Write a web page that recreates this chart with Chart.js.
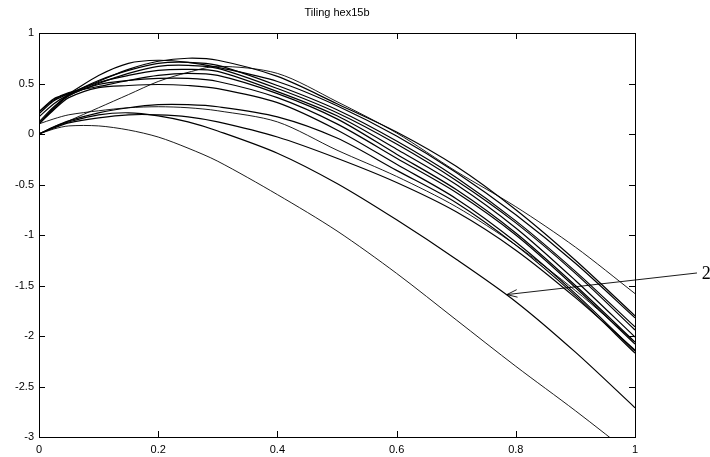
<!DOCTYPE html>
<html>
<head>
<meta charset="utf-8">
<script src="https://cdn.jsdelivr.net/npm/chart.js@4/dist/chart.umd.min.js"></script>
<style>
  html, body { margin: 0; padding: 0; background: #fff; }
  #wrap { width: 710px; height: 457px; position: relative; }
</style>
</head>
<body>
<div id="wrap"><canvas id="tilingChart"></canvas></div>
<script>
const chartTitle = 'Tiling hex15b';

// x positions shared by every curve
const xGrid = [0, 0.025, 0.05, 0.1, 0.15, 0.2, 0.25, 0.3, 0.4, 0.5, 0.6, 0.7, 0.8, 0.9, 1];

// upper bundle
const curve01 = [0, 0.065, 0.13, 0.26, 0.39, 0.52, 0.61, 0.67, 0.60, 0.32, 0.01, -0.37, -0.72, -1.12, -1.58];
const curve02 = [0.22, 0.35, 0.40, 0.52, 0.64, 0.72, 0.75, 0.73, 0.57, 0.30, 0.02, -0.32, -0.75, -1.25, -1.80];
const curve03 = [0.20, 0.33, 0.40, 0.58, 0.70, 0.73, 0.71, 0.66, 0.52, 0.28, -0.02, -0.38, -0.80, -1.28, -1.82];
const curve04 = [0.17, 0.30, 0.39, 0.53, 0.63, 0.70, 0.71, 0.68, 0.48, 0.24, -0.07, -0.43, -0.86, -1.36, -1.91];
const curve05 = [0.12, 0.27, 0.38, 0.50, 0.60, 0.67, 0.68, 0.65, 0.45, 0.21, -0.10, -0.46, -0.88, -1.38, -1.94];
const curve06 = [0.10, 0.26, 0.39, 0.51, 0.58, 0.63, 0.64, 0.62, 0.42, 0.18, -0.15, -0.50, -0.93, -1.45, -2.01];
const curve07 = [0.22, 0.34, 0.41, 0.47, 0.53, 0.58, 0.60, 0.58, 0.40, 0.15, -0.20, -0.55, -0.98, -1.50, -2.06];
const curve08 = [0.10, 0.25, 0.38, 0.49, 0.53, 0.55, 0.55, 0.52, 0.36, 0.10, -0.24, -0.58, -1.00, -1.52, -2.08];
const curve09 = [0.10, 0.24, 0.36, 0.46, 0.48, 0.49, 0.48, 0.45, 0.31, 0.04, -0.30, -0.64, -1.07, -1.58, -2.15];
const curve10 = [0, 0.07, 0.13, 0.21, 0.26, 0.29, 0.29, 0.27, 0.17, -0.04, -0.36, -0.68, -1.10, -1.60, -2.17];
const curve11 = [0.10, 0.15, 0.19, 0.23, 0.26, 0.27, 0.26, 0.23, 0.12, -0.16, -0.42, -0.72, -1.10, -1.55, -2.06];
const curve12 = [0, 0.06, 0.11, 0.16, 0.19, 0.19, 0.17, 0.12, -0.03, -0.24, -0.48, -0.77, -1.15, -1.62, -2.14];
// the two lower ones
const curve13 = [0, 0.07, 0.12, 0.19, 0.21, 0.18, 0.12, 0.03, -0.19, -0.49, -0.85, -1.24, -1.66, -2.16, -2.71];
const curve14 = [0, 0.05, 0.08, 0.08, 0.04, -0.03, -0.14, -0.27, -0.60, -0.96, -1.38, -1.84, -2.30, -2.74, -3.20];

const allCurves = [curve01, curve02, curve03, curve04, curve05, curve06, curve07,
  curve08, curve09, curve10, curve11, curve12, curve13, curve14];
const thinCurves = [0, 10, 13];

const xTicks = [0, 0.2, 0.4, 0.6, 0.8, 1];
const xTickLabels = ['0', '0.2', '0.4', '0.6', '0.8', '1'];
const yTicks = [-3, -2.5, -2, -1.5, -1, -0.5, 0, 0.5, 1];
const yTickLabels = ['-3', '-2.5', '-2', '-1.5', '-1', '-0.5', '0', '0.5', '1'];

// "2" label with arrow, in data units
const arrowLabel = '2';
const arrowTip = [0.785, -1.59];
const arrowTail = [1.104, -1.376];
const arrowText = [1.112, -1.385];

const datasets = allCurves.map((ys, i) => ({
  data: ys.map((y, j) => ({ x: xGrid[j], y: y })),
  borderColor: '#000',
  borderWidth: thinCurves.includes(i) ? 0.9 : 1.2,
  pointRadius: 0,
  fill: false,
  tension: 0.3
}));

const framePlugin = {
  id: 'frame',
  afterDraw(chart) {
    const c = chart.ctx;
    const a = chart.chartArea;
    const xs = chart.scales.x, ys = chart.scales.y;
    const tl = 6;
    c.save();
    c.strokeStyle = '#000';
    c.lineWidth = 1;
    c.strokeRect(a.left + 0.5, a.top + 0.5, a.right - a.left, a.bottom - a.top);
    c.beginPath();
    xTicks.forEach(v => {
      const px = Math.round(xs.getPixelForValue(v)) + 0.5;
      c.moveTo(px, a.bottom); c.lineTo(px, a.bottom - tl);
      c.moveTo(px, a.top); c.lineTo(px, a.top + tl);
    });
    yTicks.forEach(v => {
      const py = Math.round(ys.getPixelForValue(v)) + 0.5;
      c.moveTo(a.left, py); c.lineTo(a.left + tl, py);
      c.moveTo(a.right, py); c.lineTo(a.right - tl, py);
    });
    c.stroke();

    // title over plot area
    c.fillStyle = '#000';
    c.font = '11px "Liberation Sans", Arial, sans-serif';
    c.textAlign = 'center';
    c.textBaseline = 'middle';
    c.fillText(chartTitle, (a.left + a.right) / 2, 13);

    // arrow annotation
    const tx = xs.getPixelForValue(arrowTip[0]), ty = ys.getPixelForValue(arrowTip[1]);
    const sx = xs.getPixelForValue(arrowTail[0]), sy = ys.getPixelForValue(arrowTail[1]);
    const ang = Math.atan2(ty - sy, tx - sx);
    const hl = 11, hw = 0.35;
    c.lineWidth = 0.9;
    c.beginPath();
    c.moveTo(sx, sy); c.lineTo(tx, ty);
    c.moveTo(tx - hl * Math.cos(ang - hw), ty - hl * Math.sin(ang - hw));
    c.lineTo(tx, ty);
    c.lineTo(tx - hl * Math.cos(ang + hw), ty - hl * Math.sin(ang + hw));
    c.stroke();
    c.font = '18px "Liberation Serif", "Times New Roman", serif';
    c.textAlign = 'left';
    c.fillText(arrowLabel, xs.getPixelForValue(arrowText[0]), ys.getPixelForValue(arrowText[1]));
    c.restore();
  }
};

const ctx = document.getElementById('tilingChart').getContext('2d');
const tilingChart = new Chart(ctx, {
  type: 'line',
  data: { datasets: datasets },
  plugins: [framePlugin],
  options: {
    responsive: true,
    maintainAspectRatio: false,
    animation: false,
    layout: { padding: { left: 0, right: 75, top: 33, bottom: 0 } },
    plugins: {
      legend: { display: false },
      title: { display: false },
      tooltip: { enabled: false }
    },
    scales: {
      x: {
        type: 'linear',
        min: 0,
        max: 1,
        grid: { display: false, drawTicks: false },
        border: { display: false },
        afterBuildTicks(scale) { scale.ticks = xTicks.map(v => ({ value: v })); },
        afterFit(scale) { scale.height = 20; },
        ticks: {
          color: '#000',
          padding: 6,
          maxRotation: 0,
          callback: (v, i) => xTickLabels[i],
          font: { family: '"Liberation Sans", Arial, sans-serif', size: 11 }
        }
      },
      y: {
        type: 'linear',
        min: -3,
        max: 1,
        grid: { display: false, drawTicks: false },
        border: { display: false },
        afterBuildTicks(scale) { scale.ticks = yTicks.map(v => ({ value: v })); },
        afterFit(scale) { scale.width = 39; },
        ticks: {
          color: '#000',
          padding: 5,
          callback: (v, i) => yTickLabels[i],
          font: { family: '"Liberation Sans", Arial, sans-serif', size: 11 }
        }
      }
    }
  }
});
</script>
</body>
</html>
